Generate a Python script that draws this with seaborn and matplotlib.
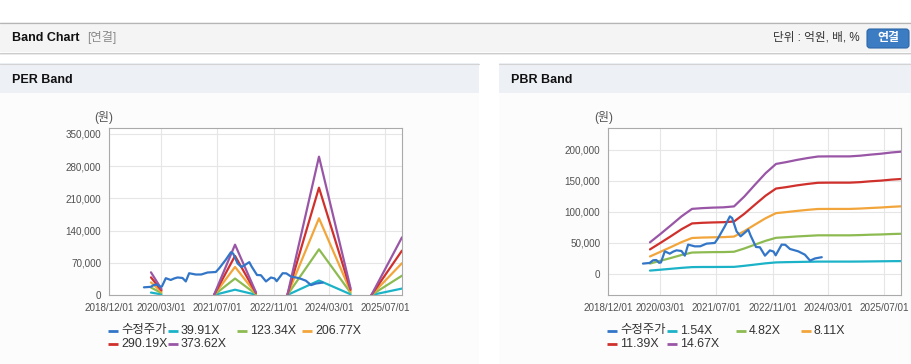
import numpy as np
import pandas as pd
import seaborn as sns
from matplotlib import pyplot as plt
from matplotlib.patches import Rectangle, FancyBboxPatch

# ---- data ----
price_dates = ['2019-10-01', '2019-11-28', '2019-12-28', '2020-01-25', '2020-02-18', '2020-03-05',
               '2020-04-08', '2020-05-21', '2020-06-20', '2020-07-19', '2020-08-31', '2020-09-29',
               '2020-10-28', '2020-12-25', '2021-02-10', '2021-04-06', '2021-06-17', '2021-07-16',
               '2021-09-12', '2021-10-26', '2021-11-15', '2021-12-23', '2022-01-27', '2022-04-04',
               '2022-04-24', '2022-06-10', '2022-07-14', '2022-08-27', '2022-10-09', '2022-11-10',
               '2022-11-28', '2023-01-19', '2023-02-20', '2023-04-01', '2023-06-12', '2023-08-09',
               '2023-09-23', '2023-11-05', '2024-01-03']
price = [16700, 17700, 22000, 22500, 18000, 18500,
         36500, 32700, 36000, 38100, 37000, 29500,
         47300, 44500, 44600, 48900, 50000, 58000,
         76800, 92900, 90000, 68700, 60700, 71400,
         62000, 43500, 43000, 29500, 38000, 36000,
         30000, 47300, 47000, 40300, 36500, 31100,
         21500, 25000, 27000]

per_dates = ['2019-12-01', '2020-03-01', '2020-06-01', '2021-06-01', '2021-12-01', '2022-06-01',
             '2022-09-01', '2023-03-01', '2023-12-01', '2024-09-01', '2024-12-01', '2025-03-01',
             '2025-11-22']
nan = np.nan
per_39 = [5300, 1400, nan, 0, 11500, 600, nan, 0, 31500, 1500, nan, 0, 14000]
per_123 = [16300, 4300, nan, 0, 35800, 1900, nan, 0, 99300, 4800, nan, 0, 42000]
per_206 = [27300, 7200, nan, 0, 61000, 3200, nan, 0, 166700, 8000, nan, 0, 69200]
per_290 = [38300, 10100, nan, 0, 85000, 4500, nan, 0, 233300, 11300, nan, 0, 96500]
per_373 = [49300, 13000, nan, 0, 109400, 5800, nan, 0, 300700, 14500, nan, 0, 125400]

pbr_dates = ['2019-12-01', '2020-03-01', '2020-06-01', '2020-09-01', '2020-12-01', '2021-03-01',
             '2021-06-01', '2021-09-01', '2021-12-01', '2022-03-01', '2022-06-01', '2022-09-01',
             '2022-12-01', '2023-03-01', '2023-06-01', '2023-09-01', '2023-12-01', '2024-03-01',
             '2024-06-01', '2024-09-01', '2024-12-01', '2025-03-01', '2025-06-01', '2025-09-01',
             '2025-11-22']
pbr_154 = [5400, 6800, 8300, 9800, 11000, 11200, 11200, 11300, 11400, 13100, 15100, 17100,
           18600, 19000, 19300, 19600, 19900, 19900, 19900, 19900, 20000, 20200, 20400, 20600, 20700]
pbr_482 = [16800, 21200, 25800, 30600, 34500, 34900, 35200, 35300, 35800, 41100, 47300, 53400,
           58300, 59300, 60500, 61400, 62300, 62300, 62300, 62300, 62700, 63300, 63700, 64400, 64800]
pbr_811 = [28200, 35700, 43400, 51400, 58000, 58700, 59100, 59400, 60300, 69100, 79600, 89800,
           98100, 99800, 101700, 103400, 104800, 104900, 104900, 104900, 105500, 106400, 107200,
           108300, 109100]
pbr_1139 = [39600, 50100, 61000, 72200, 81500, 82500, 83100, 83500, 84600, 97100, 111800, 126200,
            137800, 140100, 142900, 145200, 147100, 147300, 147300, 147300, 148100, 149500, 150600,
            152200, 153200]
pbr_1467 = [51000, 64500, 78600, 93000, 105000, 106200, 107000, 107500, 109000, 125000, 144000,
            162500, 177500, 180500, 184000, 187000, 189500, 189700, 189700, 189700, 190800, 192500,
            194000, 196000, 197300]

per_labels = ['수정주가', '39.91X', '123.34X', '206.77X', '290.19X', '373.62X']
pbr_labels = ['수정주가', '1.54X', '4.82X', '8.11X', '11.39X', '14.67X']
colors = ['#3376c8', '#1cb3c8', '#8dbb52', '#f2a53a', '#d0302c', '#9a56a6']

x_ticks = ['2018-12-01', '2020-03-01', '2021-07-01', '2022-11-01', '2024-03-01', '2025-07-01']


def draw_series(ax, dates, vals, color):
    s = pd.Series(vals, index=pd.to_datetime(dates), dtype=float)
    seg = s.isna().cumsum()
    ok = s.notna()
    for _, part in s[ok].groupby(seg[ok]):
        sns.lineplot(x=part.index, y=part.values, ax=ax, color=color, lw=1.6)


def style_axes(ax, ylim, yticks):
    ax.set_xlim(pd.Timestamp('2018-12-01'), pd.Timestamp('2025-11-22'))
    ax.set_ylim(*ylim)
    ax.set_yticks(yticks)
    ax.set_yticklabels([f'{v:,}' for v in yticks])
    ax.set_xticks(pd.to_datetime(x_ticks))
    ax.set_xticklabels([d.replace('-', '/') for d in x_ticks])
    ax.grid(True, color='#e6e6e6', lw=0.8)
    ax.set_axisbelow(True)
    for sp in ax.spines.values():
        sp.set_visible(True)
        sp.set_color('#aaaaaa')
        sp.set_linewidth(0.8)
    ax.tick_params(direction='out', length=3.5, width=0.7, color='#999999',
                   labelcolor='#505050', labelsize=7.1, pad=2)
    ax.set_xlabel('')
    ax.set_ylabel('')


sns.set_style('white')
plt.rcParams['font.family'] = ['Liberation Sans', 'Noto Sans CJK KR', 'DejaVu Sans']

fig = plt.figure(figsize=(9.12, 3.64), dpi=100)

# page background in pixel coordinates
bg = fig.add_axes([0, 0, 1, 1])
bg.set_xlim(0, 912)
bg.set_ylim(364, 0)
bg.axis('off')

bg.add_patch(Rectangle((0, 22), 912, 30, fc='#f4f4f4', ec='none'))
bg.plot([0, 912], [22.5, 22.5], color='#b5b5b5', lw=0.9)
bg.plot([0, 912], [52.5, 52.5], color='#cccccc', lw=0.8)
bg.add_patch(Rectangle((0, 53), 912, 2, fc='#ececec', ec='none'))
bg.text(12, 38, 'Band Chart', fontsize=9, fontweight='bold', color='#111111', va='center')
bg.text(87, 38, '[연결]', fontsize=8.8, color='#8a8a8a', va='center')
bg.text(860, 38, '단위 : 억원, 배, %', fontsize=8.4, color='#333333', va='center', ha='right')
bg.add_patch(FancyBboxPatch((867, 29), 42, 19, boxstyle='round,pad=0,rounding_size=3',
                            fc='#3b7cc3', ec='#2d67a8', lw=0.8))
bg.text(888, 38.5, '연결', fontsize=8.6, fontweight='bold', color='white', va='center', ha='center')

for px0, w, title in [(0, 479, 'PER Band'), (499, 413, 'PBR Band')]:
    bg.add_patch(Rectangle((px0, 93), w, 271, fc='#fcfcfc', ec='none'))
    bg.add_patch(Rectangle((px0, 63), w, 30, fc='#edf1f6', ec='none'))
    bg.plot([px0, px0 + w], [63.5, 63.5], color='#d3d3d3', lw=0.8)
    bg.text(px0 + 12, 80, title, fontsize=9, fontweight='bold', color='#111111', va='center')

# ---- charts ----
ax1 = fig.add_axes([109 / 912, 69 / 364, 293 / 912, 167 / 364])
ax2 = fig.add_axes([608 / 912, 69 / 364, 293 / 912, 167 / 364])

for i, vals in enumerate([per_39, per_123, per_206, per_290, per_373]):
    draw_series(ax1, per_dates, vals, colors[i + 1])
draw_series(ax1, price_dates, price, colors[0])
style_axes(ax1, (0, 363000), [0, 70000, 140000, 210000, 280000, 350000])

for i, vals in enumerate([pbr_154, pbr_482, pbr_811, pbr_1139, pbr_1467]):
    draw_series(ax2, pbr_dates, vals, colors[i + 1])
draw_series(ax2, price_dates, price, colors[0])
style_axes(ax2, (-34000, 235500), [0, 50000, 100000, 150000, 200000])

bg.text(104, 118, '(원)', fontsize=8.6, color='#555555', va='center', ha='center')
bg.text(604, 118, '(원)', fontsize=8.6, color='#555555', va='center', ha='center')

# legends drawn by hand, two rows like the reference
col_off = [-1, 59, 128, 193]
for left, labels in [(109, per_labels), (608, pbr_labels)]:
    for k, lab in enumerate(labels):
        row, col = divmod(k, 4)
        x0 = left + col_off[col]
        y0 = 330.5 + row * 13.5
        bg.plot([x0, x0 + 10], [y0, y0], color=colors[k], lw=2, solid_capstyle='butt')
        bg.text(x0 + 13, y0, lab, fontsize=8.9, color='#333333', va='center')

bg.set_zorder(0)
ax1.set_zorder(1)
ax2.set_zorder(1)

fig.savefig('out.png', dpi=100)
